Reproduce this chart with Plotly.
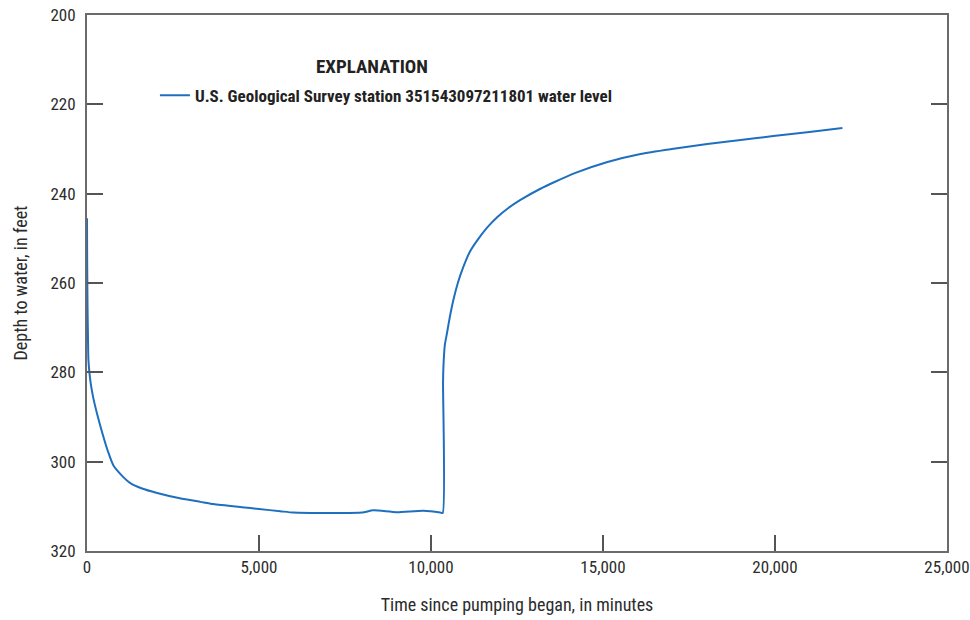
import plotly.graph_objects as go

# Time since pumping began (minutes) and depth to water (feet)
time_min = [0, 5, 15, 30, 40, 70, 100, 140, 190, 300, 445, 600, 765, 1000, 1260,
            1600, 2040, 2700, 3300, 3670, 4500, 5000, 5620, 6000, 7000, 8000, 8320,
            9000, 9780, 10270, 10340, 10350, 10360, 10400, 10465, 10550, 10650,
            10780, 10940, 11130, 11350, 11630, 11930, 12250, 12600, 13180, 13560,
            14140, 15130, 16090, 17000, 18030, 19000, 19950, 21000, 21960]
depth_ft = [245.5, 255, 265, 273, 277, 280, 282, 284, 286, 289.5, 293.6, 297.5,
            300.8, 303, 304.8, 306, 307, 308.2, 309.0, 309.5, 310.2, 310.6, 311.1,
            311.4, 311.5, 311.4, 310.9, 311.3, 311.0, 311.4, 311.5, 282.4, 279,
            274, 271.2, 267.5, 263.8, 260, 256.4, 253, 250.4, 247.6, 245.2, 243.2,
            241.4, 238.9, 237.5, 235.5, 232.9, 231.1, 230.0, 228.9, 228.0, 227.1,
            226.2, 225.3]

series_name = "U.S. Geological Survey station 351543097211801 water level"
legend_title = "EXPLANATION"
x_ticks = [0, 5000, 10000, 15000, 20000, 25000]
x_tick_labels = ["0", "5,000", "10,000", "15,000", "20,000", "25,000"]
y_ticks = [200, 220, 240, 260, 280, 300, 320]

FONT = "Liberation Sans Narrow, Arial Narrow, Roboto Condensed, sans-serif"
AXIS_COLOR = "#6b6b6b"

fig = go.Figure()
fig.add_trace(go.Scatter(
    x=time_min, y=depth_ft, mode="lines", name="<b>" + series_name + "</b>",
    line=dict(color="#1f6fbf", width=2, shape="spline", smoothing=0.6),
))

fig.update_layout(
    width=970, height=620,
    margin=dict(l=87, r=23, t=15, b=69),
    paper_bgcolor="white", plot_bgcolor="white",
    font=dict(family=FONT, size=16, color="#2b2b2b"),
    showlegend=True,
    legend=dict(
        x=0.079, y=0.883, xanchor="left", yanchor="top",
        bgcolor="rgba(0,0,0,0)",
        font=dict(family=FONT, size=17, color="#222"),
    ),
    annotations=[dict(
        text="<b>" + legend_title + "</b>", xref="paper", yref="paper",
        x=0.331, y=0.903, xanchor="center", yanchor="middle", showarrow=False,
        font=dict(family=FONT, size=19, color="#222"),
    )],
)
fig.update_xaxes(
    range=[0, 25000], tickvals=x_ticks, ticktext=x_tick_labels,
    showgrid=False, zeroline=False, automargin=False,
    showline=True, linecolor=AXIS_COLOR, linewidth=2, mirror=True,
    ticks="inside", ticklen=16, tickwidth=1.5, tickcolor="#555",
    tickfont=dict(family=FONT, size=17), ticklabeloverflow="allow",
    title=dict(text="Time since pumping began, in minutes",
               font=dict(family=FONT, size=18), standoff=22),
)
fig.update_yaxes(
    range=[320, 200], tickvals=y_ticks,
    showgrid=False, zeroline=False, automargin=False,
    showline=True, linecolor=AXIS_COLOR, linewidth=2, mirror="allticks",
    ticks="inside", ticklen=16, tickwidth=1.5, tickcolor="#555",
    tickfont=dict(family=FONT, size=17), ticklabeloverflow="allow",
    ticklabelstandoff=6,
    title=dict(text="Depth to water, in feet",
               font=dict(family=FONT, size=18), standoff=18),
)

# remove the default 8px page margin so the 970x620 figure fills the window exactly
fig.write_html(
    "out.html",
    config={"displayModeBar": False},
    post_script="document.body.style.margin='0';document.body.style.overflow='hidden';",
)
